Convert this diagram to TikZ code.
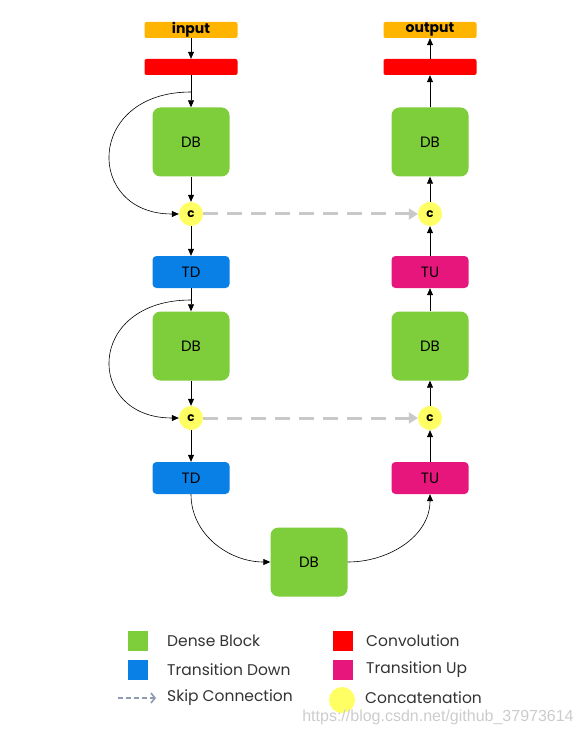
\documentclass[tikz,border=0pt]{standalone}
\usepackage{fontspec}
\setmainfont{Poppins}
\newfontfamily\wmfont{Liberation Sans}
\usetikzlibrary{arrows.meta}
\usepackage{xcolor}

\definecolor{dbgreen}{RGB}{125,206,58}
\definecolor{tdblue}{RGB}{8,128,230}
\definecolor{tupink}{RGB}{230,22,125}
\definecolor{convred}{RGB}{255,0,0}
\definecolor{ioorange}{RGB}{255,180,0}
\definecolor{catyellow}{RGB}{255,255,100}
\definecolor{skipgray}{RGB}{200,200,200}
\definecolor{legarrow}{RGB}{140,155,176}

\tikzset{
  dense/.style={fill=dbgreen, rounded corners=8pt, minimum width=77pt, minimum height=69pt, font=\fontsize{15}{17}\selectfont},
  trans/.style={rounded corners=4pt, minimum width=77pt, minimum height=32pt, font=\fontsize{15}{17}\selectfont},
  convbar/.style={fill=convred, rounded corners=2pt, minimum width=93pt, minimum height=16pt},
  iobar/.style={fill=ioorange, rounded corners=2pt, minimum width=93pt, minimum height=16pt, inner sep=0pt, font=\bfseries\fontsize{14}{15}\selectfont},
  concat/.style={circle, fill=catyellow, minimum size=24pt, inner sep=0pt, font=\bfseries\fontsize{12}{13}\selectfont},
  flow/.style={-{Triangle[length=7pt,width=6pt]}, line width=0.6pt},
  skip/.style={-{Triangle[length=9pt,width=11pt]}, skipgray, line width=3pt, dash pattern=on 15pt off 9pt},
  legbox/.style={minimum size=20pt, inner sep=0pt},
  legtext/.style={anchor=west, inner sep=0pt, text=black!80, font=\fontsize{15.5}{17}\selectfont}
}

\begin{document}
\begin{tikzpicture}[x=1pt,y=-1pt]
\useasboundingbox (0,0) rectangle (582,735);

% Ramo que desce
\node[iobar] (in) at (191,30) {input};
\node[convbar] (convA) at (191,67) {};
\node[dense] (dbA) at (191,142) {DB};
\node[concat] (cA) at (191,214) {c};
\node[trans, fill=tdblue] (tdA) at (191,272) {TD};
\node[dense] (dbB) at (191,346) {DB};
\node[concat] (cB) at (191,418) {c};
\node[trans, fill=tdblue] (tdB) at (191,478) {TD};

% Fundo
\node[dense] (dbC) at (309,562) {DB};

% Ramo que sobe
\node[trans, fill=tupink] (tuB) at (430,478) {TU};
\node[concat] (cD) at (430,418) {c};
\node[dense] (dbD) at (430,346) {DB};
\node[trans, fill=tupink] (tuA) at (430,272) {TU};
\node[concat] (cC) at (430,214) {c};
\node[dense] (dbE) at (430,142) {DB};
\node[convbar] (convB) at (430,67) {};
\node[iobar] (out) at (430,30) {output};

% Setas verticais
\foreach \from/\to in {in/convA, convA/dbA, dbA/cA, cA/tdA, tdA/dbB, dbB/cB, cB/tdB,
                       tuB/cD, cD/dbD, dbD/tuA, tuA/cC, cC/dbE, dbE/convB, convB/out} {
    \draw[flow] (\from) -- (\to);
}

% Ligacoes densas (curvas)
\coordinate (sA) at (191,92);
\coordinate (sB) at (191,300);
\draw[flow] (sA) .. controls (85,92) and (85,214) .. (cA.west);
\draw[flow] (sB) .. controls (85,300) and (85,418) .. (cB.west);
\draw[flow] (tdB.south) to[out=-90, in=180] (dbC.west);
\draw[flow] (dbC.east) to[out=0, in=-90] (tuB.south);

% Skip connections
\draw[skip] (cA.east) -- (cC.west);
\draw[skip] (cB.east) -- (cD.west);

% Legenda
\node[legbox, fill=dbgreen] (kDB) at (138,641) {};
\node[legtext] (tDB) at (167,641) {Dense Block};
\node[legbox, fill=tdblue] (kTD) at (138,670) {};
\node[legtext] (tTD) at (167,670) {Transition Down};
\coordinate (kS1) at (118,698);
\coordinate (kS2) at (156,698);
\draw[legarrow, line width=1.6pt, dash pattern=on 5pt off 3pt, -{Straight Barb[length=4pt,width=10pt]}] (kS1) -- (kS2);
\node[legtext] (tS) at (167,698) {Skip Connection};
\node[legbox, fill=convred] (kCV) at (343,641) {};
\node[legtext] (tCV) at (366,641) {Convolution};
\node[legbox, fill=tupink] (kTU) at (343,670) {};
\node[legtext] (tTU) at (366,670) {Transition Up};
\node[circle, fill=catyellow, minimum size=26pt, inner sep=0pt] (kC) at (342,700) {};
\node[legtext] (tC) at (365,698) {Concatenation};

% Marca d'agua
\node[text=black!20, font=\wmfont\fontsize{16}{18}\selectfont] (wm) at (438,717) {https://blog.csdn.net/github\_37973614};
\end{tikzpicture}
\end{document}
